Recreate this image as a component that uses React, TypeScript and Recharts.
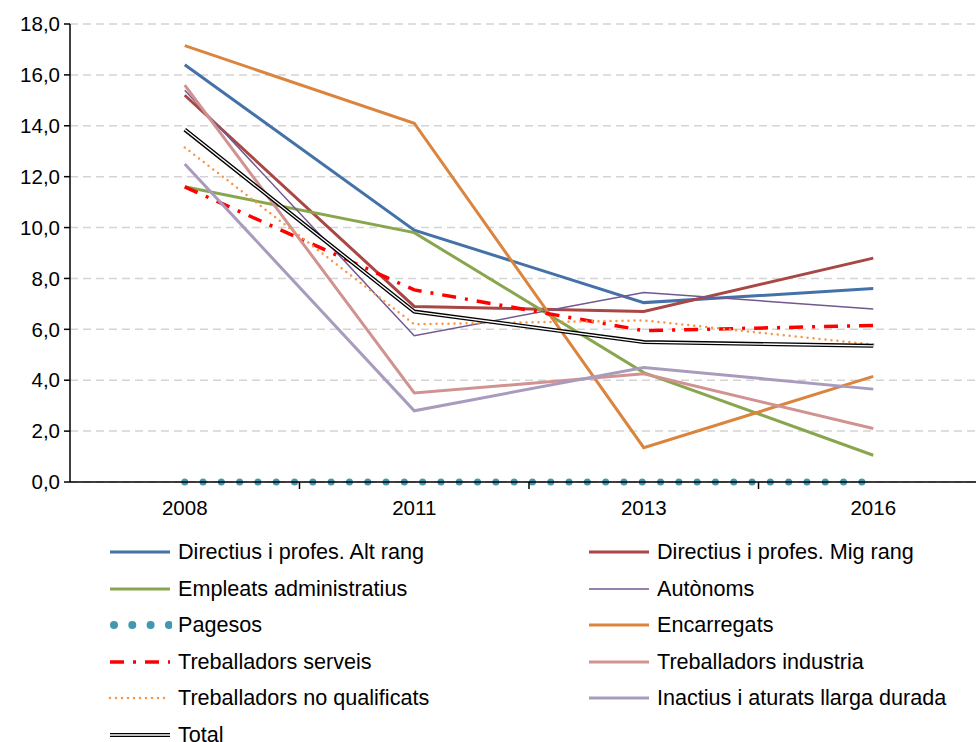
import { LineChart, Line, XAxis, YAxis, CartesianGrid } from "recharts";

const years = ["2008", "2011", "2013", "2016"];
const yTicks = [0, 2, 4, 6, 8, 10, 12, 14, 16, 18];

const altRang = [16.4, 9.9, 7.05, 7.6];
const migRang = [15.2, 6.9, 6.7, 8.8];
const empleats = [11.6, 9.8, 4.3, 1.05];
const autonoms = [15.4, 5.75, 7.45, 6.8];
const pagesos = [0, 0, 0, 0];
const encarregats = [17.15, 14.1, 1.35, 4.15];
const serveis = [11.6, 7.55, 5.95, 6.15];
const industria = [15.6, 3.5, 4.25, 2.1];
const noQualificats = [13.15, 6.2, 6.35, 5.4];
const inactius = [12.5, 2.8, 4.5, 3.65];
const total = [13.85, 6.7, 5.5, 5.35];

type Series = {
  key: string;
  name: string;
  values: number[];
  color: string;
  width: number;
  dash?: string;
  cap?: "round" | "butt";
};

const series: Series[] = [
  { key: "alt", name: "Directius i profes. Alt rang", values: altRang, color: "#4472A8", width: 3 },
  { key: "mig", name: "Directius i profes. Mig rang", values: migRang, color: "#A84744", width: 3 },
  { key: "emp", name: "Empleats administratius", values: empleats, color: "#89A64E", width: 3 },
  { key: "aut", name: "Autònoms", values: autonoms, color: "#71588F", width: 1.5 },
  { key: "pag", name: "Pagesos", values: pagesos, color: "#4198AF", width: 7, dash: "0 18.3", cap: "round" },
  { key: "enc", name: "Encarregats", values: encarregats, color: "#DB843D", width: 3 },
  { key: "ser", name: "Treballadors serveis", values: serveis, color: "#FF0000", width: 3.5, dash: "14 9 3 9" },
  { key: "ind", name: "Treballadors industria", values: industria, color: "#D09391", width: 3 },
  { key: "noq", name: "Treballadors no qualificats", values: noQualificats, color: "#F79646", width: 2.5, dash: "0 6", cap: "round" },
  { key: "ina", name: "Inactius i aturats llarga durada", values: inactius, color: "#A99BBD", width: 3 },
];

const data = years.map((year, i) => {
  const row: Record<string, string | number> = { year, total: total[i] };
  series.forEach((s) => {
    row[s.key] = s.values[i];
  });
  return row;
});

const leftCol = ["alt", "emp", "pag", "ser", "noq", "total"];
const rightCol = ["mig", "aut", "enc", "ind", "ina"];

const FONT = '"Liberation Sans", Arial, sans-serif';
const FS = 20.5;
const LEGEND_FS = 21.6;
const PLOT_LEFT = 70;
const PLOT_RIGHT = 988;
const BAND = (PLOT_RIGHT - PLOT_LEFT) / years.length;

function XTick({ x, y, payload }: { x?: number; y?: number; payload?: { value: string } }) {
  const cx = x ?? 0;
  const cy = y ?? 0;
  return (
    <g>
      <line x1={cx + BAND / 2} x2={cx + BAND / 2} y1={cy} y2={cy + 7} stroke="#000" strokeWidth={1.5} />
      <text x={cx} y={cy + 33} textAnchor="middle" fontSize={FS} fill="#000" fontFamily={FONT}>
        {payload?.value}
      </text>
    </g>
  );
}

function Swatch({ id }: { id: string }) {
  if (id === "total") {
    return (
      <svg width={64} height={10}>
        <line x1={2} x2={62} y1={5} y2={5} stroke="#000" strokeWidth={4} />
        <line x1={2} x2={62} y1={5} y2={5} stroke="#fff" strokeWidth={1.3} />
      </svg>
    );
  }
  const s = series.find((d) => d.key === id)!;
  return (
    <svg width={64} height={10}>
      <line
        x1={id === "pag" ? 6 : 2}
        x2={62}
        y1={5}
        y2={5}
        stroke={s.color}
        strokeWidth={s.key === "pag" ? 8 : s.width}
        strokeDasharray={s.dash}
        strokeLinecap={s.cap ?? "butt"}
      />
    </svg>
  );
}

function LegendItem({ id }: { id: string }) {
  const label = id === "total" ? "Total" : series.find((d) => d.key === id)!.name;
  return (
    <div style={{ display: "flex", alignItems: "center", height: 36.5 }}>
      <Swatch id={id} />
      <span style={{ marginLeft: 6, fontSize: LEGEND_FS, fontFamily: FONT, color: "#000", lineHeight: 1 }}>{label}</span>
    </div>
  );
}

export default function App() {
  return (
    <div
      style={{
        position: "absolute",
        left: 0,
        top: 0,
        width: 976,
        height: 742,
        overflow: "hidden",
        background: "#fff",
      }}
    >
      <LineChart
        width={1000}
        height={742}
        data={data}
        margin={{ top: 24, right: 1000 - PLOT_RIGHT, bottom: 230, left: 0 }}
      >
        <CartesianGrid vertical={false} stroke="#d4d4d4" strokeDasharray="8 5" strokeWidth={1.5} />
        <XAxis
          dataKey="year"
          height={30}
          padding={{ left: BAND / 2, right: BAND / 2 }}
          axisLine={{ stroke: "#000", strokeWidth: 1.5 }}
          tickLine={false}
          tickSize={0}
          tickMargin={0}
          tick={<XTick />}
          interval={0}
        />
        <YAxis
          width={PLOT_LEFT}
          domain={[0, 18]}
          ticks={yTicks}
          interval={0}
          axisLine={{ stroke: "#000", strokeWidth: 1.5 }}
          tickLine={{ stroke: "#000", strokeWidth: 1.5 }}
          tickSize={6}
          tickMargin={4}
          tick={{ fill: "#000", fontSize: FS, fontFamily: FONT }}
          tickFormatter={(v: number) => v.toFixed(1).replace(".", ",")}
        />
        {series.map((s) => (
          <Line
            key={s.key}
            dataKey={s.key}
            name={s.name}
            stroke={s.color}
            strokeWidth={s.width}
            strokeDasharray={s.dash}
            strokeLinecap={s.cap ?? "butt"}
            dot={false}
            activeDot={false}
            type="linear"
            isAnimationActive={false}
          />
        ))}
        <Line dataKey="total" name="Total" stroke="#000" strokeWidth={4} dot={false} activeDot={false} isAnimationActive={false} />
        <Line dataKey="total" name="Total inner" stroke="#fff" strokeWidth={1.3} dot={false} activeDot={false} legendType="none" isAnimationActive={false} />
      </LineChart>
      <div style={{ position: "absolute", left: 108, top: 534 }}>
        {leftCol.map((id) => (
          <LegendItem key={id} id={id} />
        ))}
      </div>
      <div style={{ position: "absolute", left: 587, top: 534 }}>
        {rightCol.map((id) => (
          <LegendItem key={id} id={id} />
        ))}
      </div>
    </div>
  );
}
